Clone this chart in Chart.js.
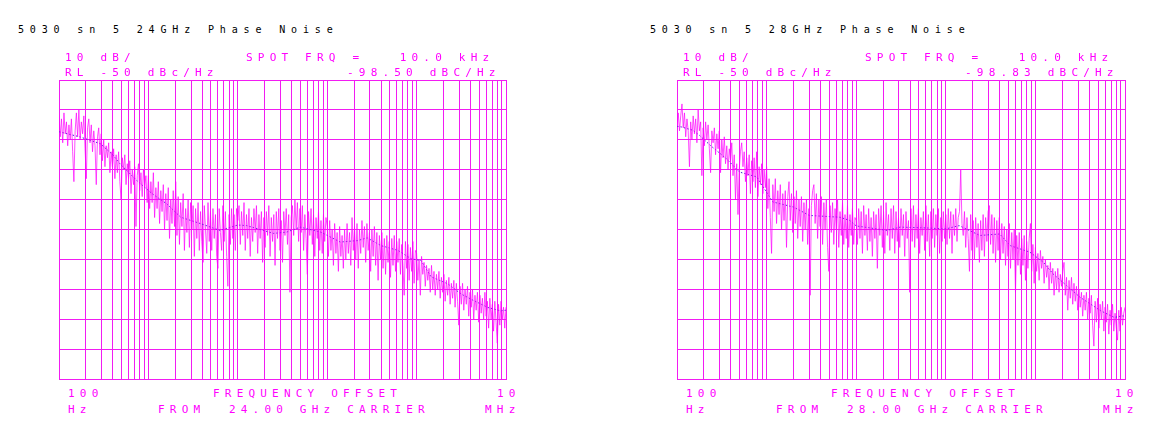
<!DOCTYPE html>
<html>
<head>
<meta charset="utf-8">
<script src="https://cdn.jsdelivr.net/npm/chart.js@4/dist/chart.umd.min.js"></script>
<style>
  html, body { margin: 0; padding: 0; background: #fff; }
  body { width: 1160px; height: 440px; position: relative; overflow: hidden; }
  .cv { position: absolute; }
  .t { position: absolute; white-space: pre; font-family: "DejaVu Sans Mono", monospace; }
  .blk { color: #000; font-size: 10px; line-height: 10px; letter-spacing: 5.85px; }
  .mag { color: #ff00ff; font-size: 11px; line-height: 11px; letter-spacing: 5.2px; }
</style>
</head>
<body>
<canvas id="c1" class="cv"></canvas>
<canvas id="c2" class="cv"></canvas>

<div class="t blk" style="left:18px; top:25px;">5030 sn 5 24GHz Phase Noise</div>
<div class="t mag" style="left:65px; top:52px;">10 dB/</div>
<div class="t mag" style="left:246px; top:52px;">SPOT FRQ =   10.0 kHz</div>
<div class="t mag" style="left:65px; top:67px;">RL -50 dBc/Hz</div>
<div class="t mag" style="left:347px; top:67px;">-98.50 dBC/Hz</div>
<div class="t mag" style="left:68px; top:388px;">100</div>
<div class="t mag" style="left:213px; top:388px;">FREQUENCY OFFSET</div>
<div class="t mag" style="left:497px; top:388px;">10</div>
<div class="t mag" style="left:68px; top:404px;">Hz</div>
<div class="t mag" style="left:158px; top:404px;">FROM  24.00 GHz CARRIER</div>
<div class="t mag" style="left:485px; top:404px;">MHz</div>

<div class="t blk" style="left:650px; top:25px;">5030 sn 5 28GHz Phase Noise</div>
<div class="t mag" style="left:683px; top:52px;">10 dB/</div>
<div class="t mag" style="left:865px; top:52px;">SPOT FRQ =   10.0 kHz</div>
<div class="t mag" style="left:683px; top:67px;">RL -50 dBc/Hz</div>
<div class="t mag" style="left:965px; top:67px;">-98.83 dBC/Hz</div>
<div class="t mag" style="left:686px; top:388px;">100</div>
<div class="t mag" style="left:831px; top:388px;">FREQUENCY OFFSET</div>
<div class="t mag" style="left:1115px; top:388px;">10</div>
<div class="t mag" style="left:686px; top:404px;">Hz</div>
<div class="t mag" style="left:776px; top:404px;">FROM  28.00 GHz CARRIER</div>
<div class="t mag" style="left:1103px; top:404px;">MHz</div>

<script>
// ---- sweep definition (100 Hz .. 10 MHz, 72 points per decade) ----
const sweepStartHz = 100;
const sweepStopHz = 10000000;
const pointsPerDecade = 72;

// ---- axis grid (tick) values ----
const gridFreqs = [100,200,300,400,500,600,700,800,900,
  1000,2000,3000,4000,5000,6000,7000,8000,9000,
  10000,20000,30000,40000,50000,60000,70000,80000,90000,
  100000,200000,300000,400000,500000,600000,700000,800000,900000,
  1000000,2000000,3000000,4000000,5000000,6000000,7000000,8000000,9000000,10000000];
const yMin = -150, yMax = -50, yStep = 10;

// ---- 24 GHz carrier: measured phase noise (dBc/Hz), one value per sweep point ----
const noise24 = [
  // 100 Hz - 1 kHz
  -62,-69,-63,-71,-61,-68,-64,-72,-65,-70,-63,-74,
  -84,-67,-61,-69,-60,-70,-64,-68,-62,-73,-83,-66,
  -63,-71,-65,-74,-67,-72,-85,-69,-66,-75,-68,-77,
  -70,-79,-72,-76,-71,-81,-74,-79,-73,-83,-75,-81,
  -74,-84,-90,-76,-80,-75,-85,-78,-83,-77,-88,-80,
  -85,-79,-99,-82,-78,-87,-81,-89,-80,-86,-82,-91,
  // 1 kHz - 10 kHz
  -82,-93,-84,-91,-81,-96,-86,-93,-84,-98,-87,-94,
  -85,-100,-88,-97,-86,-103,-90,-98,-87,-99,-84,-102,
  -89,-105,-91,-99,-88,-107,-93,-101,-90,-106,-91,-100,
  -92,-109,-93,-103,-91,-107,-94,-104,-111,-92,-100,-108,
  -91,-104,-94,-107,-93,-103,-95,-109,-113,-93,-101,-107,
  -92,-104,-94,-109,-119,-95,-105,-93,-103,-95,-107,-93,
  // 10 kHz - 100 kHz
  -97,-92,-105,-94,-102,-91,-107,-95,-103,-93,-109,-96,
  -104,-93,-101,-92,-108,-95,-103,-94,-111,-96,-106,-94,
  -102,-92,-109,-96,-104,-95,-112,-94,-103,-93,-107,-97,
  -111,-94,-102,-93,-105,-95,-121,-96,-92,-102,-90,-100,
  -91,-104,-93,-101,-92,-107,-95,-103,-115,-94,-102,-93,
  -105,-95,-109,-96,-103,-94,-107,-97,-108,-95,-104,-96,
  // 100 kHz - 1 MHz
  -99,-109,-97,-107,-100,-112,-98,-108,-101,-114,-99,-109,
  -102,-113,-100,-110,-98,-108,-101,-112,-96,-107,-99,-110,
  -98,-113,-100,-108,-97,-106,-99,-111,-98,-107,-101,-114,
  -100,-109,-99,-112,-101,-117,-102,-110,-101,-113,-103,-115,
  -102,-111,-104,-116,-103,-112,-102,-114,-104,-111,-103,-115,
  -105,-112,-122,-104,-113,-105,-117,-106,-114,-104,-118,-107,
  // 1 MHz - 10 MHz
  -108,-117,-110,-122,-109,-115,-111,-119,-112,-117,-113,-121,
  -112,-120,-114,-122,-115,-120,-114,-123,-116,-121,-115,-124,
  -117,-122,-116,-125,-118,-123,-117,-126,-118,-124,-132,-119,
  -125,-118,-127,-120,-125,-119,-129,-121,-126,-120,-130,-122,
  -127,-121,-131,-122,-128,-123,-130,-121,-129,-124,-133,-123,
  -130,-125,-134,-124,-131,-138,-125,-132,-124,-130,-126,-133,
  -126
];
// averaged (smoothed) trace, 24 GHz
const smoothFreq24 = [100,170,290,400,480,740,1100,1600,2300,3800,6300,10000,12600,25000,35000,50000,85000,140000,220000,280000,400000,620000,870000,1120000,1450000,2240000,3160000,4370000,6300000,8700000,10000000];
const smooth24 = [-67.3,-69,-71.3,-75,-78,-83.6,-88,-91.4,-95.9,-98,-100.3,-98.5,-98.7,-101.3,-100.9,-99.2,-100.9,-104.2,-103.7,-102.8,-105.4,-107,-109.8,-110.4,-115.8,-118.2,-121.6,-123.8,-126.1,-127.2,-127];

// ---- 28 GHz carrier ----
const noise28 = [
  // 100 Hz - 1 kHz
  -66,-61,-67,-62,-58,-66,-61,-69,-63,-67,-79,-64,
  -70,-62,-68,-63,-71,-60,-67,-64,-82,-66,-72,-64,
  -70,-65,-73,-81,-67,-71,-66,-75,-68,-73,-67,-81,
  -70,-76,-69,-78,-72,-80,-73,-77,-71,-82,-75,-90,
  -78,-95,-80,-74,-71,-79,-74,-84,-76,-82,-75,-88,
  -77,-84,-76,-86,-74,-89,-79,-85,-78,-88,-80,-86,
  // 1 kHz - 10 kHz
  -79,-93,-83,-96,-108,-85,-94,-83,-98,-87,-95,-85,
  -100,-88,-97,-87,-106,-89,-84,-97,-88,-101,-89,-98,
  -87,-103,-90,-99,-89,-104,-91,-100,-90,-105,-93,-122,
  -92,-87,-85,-98,-88,-103,-90,-99,-89,-105,-91,-100,
  -90,-106,-114,-92,-101,-91,-105,-93,-100,-90,-106,-94,
  -102,-91,-105,-95,-103,-92,-106,-95,-102,-93,-105,-96,
  // 10 kHz - 100 kHz
  -97,-105,-93,-103,-94,-108,-92,-102,-95,-107,-93,-104,
  -96,-109,-94,-103,-95,-113,-93,-102,-92,-106,-94,-108,
  -91,-102,-95,-107,-93,-103,-92,-108,-94,-104,-96,-106,
  -93,-102,-95,-109,-94,-103,-97,-121,-93,-104,-92,-106,
  -95,-103,-93,-108,-96,-102,-94,-107,-92,-104,-95,-109,
  -94,-103,-93,-106,-95,-102,-93,-108,-96,-104,-94,-103,
  // 100 kHz - 1 MHz
  -95,-105,-93,-103,-94,-108,-95,-102,-93,-104,-96,-94,
  -80,-98,-102,-94,-106,-96,-103,-114,-95,-107,-97,-110,
  -96,-106,-98,-111,-97,-107,-95,-109,-96,-104,-94,-92,
  -105,-95,-108,-96,-111,-97,-107,-96,-110,-98,-108,-99,
  -112,-100,-109,-98,-113,-101,-110,-100,-121,-102,-112,-101,
  -115,-103,-112,-102,-117,-104,-113,-103,-98,-114,-105,-118,
  // 1 MHz - 10 MHz
  -106,-114,-108,-117,-107,-113,-109,-118,-110,-116,-112,-120,
  -111,-118,-113,-122,-114,-120,-113,-121,-115,-119,-114,-111,
  -122,-116,-127,-117,-123,-116,-125,-118,-124,-119,-127,-120,
  -126,-121,-129,-122,-127,-121,-130,-123,-128,-122,-132,-139,
  -124,-131,-123,-133,-125,-130,-124,-134,-126,-131,-125,-135,
  -127,-132,-125,-134,-128,-133,-137,-127,-134,-126,-132,-128,
  -126
];
const smoothFreq28 = [100,112,150,178,234,355,500,776,1175,2000,3000,6600,8500,10000,22000,31000,62000,100000,141000,240000,400000,525000,870000,1230000,1580000,2240000,3160000,5370000,7590000,9330000,10000000];
const smooth28 = [-65.5,-65.7,-66.8,-68.5,-71.8,-76.3,-80.8,-82.4,-90.8,-92.5,-95.3,-95.9,-97,-98.8,-100.3,-99.2,-99.5,-99.8,-98.7,-102,-101.5,-105.4,-107.6,-111,-114.9,-118.8,-122.7,-127.2,-129.4,-128.9,-129];

// ---- build chart data ----
function sweepFreq(i) { return sweepStartHz * Math.pow(10, i / pointsPerDecade); }
function toPoints(vals) { return vals.map((v, i) => ({ x: sweepFreq(i), y: v })); }
function toXY(fs, vs) { return fs.map((f, i) => ({ x: f, y: vs[i] })); }

const GRID = '#f21cf2';

function makeChart(id, noise, sf, sv) {
  const ctx = document.getElementById(id);
  return new Chart(ctx, {
    type: 'line',
    data: {
      datasets: [
        { data: toPoints(noise), borderColor: 'rgba(255,0,255,0.78)', borderWidth: 0.9, pointRadius: 0, tension: 0 },
        { data: toXY(sf, sv), borderColor: '#3030d0', borderWidth: 1, borderDash: [1.5, 2], pointRadius: 0, tension: 0 }
      ]
    },
    options: {
      responsive: false,
      animation: false,
      events: [],
      layout: { padding: 5 },
      plugins: { legend: { display: false }, tooltip: { enabled: false } },
      scales: {
        x: {
          type: 'logarithmic', min: sweepStartHz, max: sweepStopHz,
          afterBuildTicks: (s) => { s.ticks = gridFreqs.map(v => ({ value: v })); },
          ticks: { display: false },
          grid: { color: GRID, lineWidth: 1, drawTicks: false },
          border: { color: GRID, width: 1 }
        },
        y: {
          type: 'linear', min: yMin, max: yMax,
          ticks: { display: false, stepSize: yStep },
          grid: { color: GRID, lineWidth: 1, drawTicks: false },
          border: { color: GRID, width: 1 }
        }
      }
    }
  });
}

function place(id, left, top, w, h) {
  const c = document.getElementById(id);
  c.style.left = left + 'px'; c.style.top = top + 'px';
  c.width = w; c.height = h;
  c.style.width = w + 'px'; c.style.height = h + 'px';
}
place('c1', 54, 75, 457, 309);
place('c2', 672, 75, 458, 309);
makeChart('c1', noise24, smoothFreq24, smooth24);
makeChart('c2', noise28, smoothFreq28, smooth28);
</script>
</body>
</html>
